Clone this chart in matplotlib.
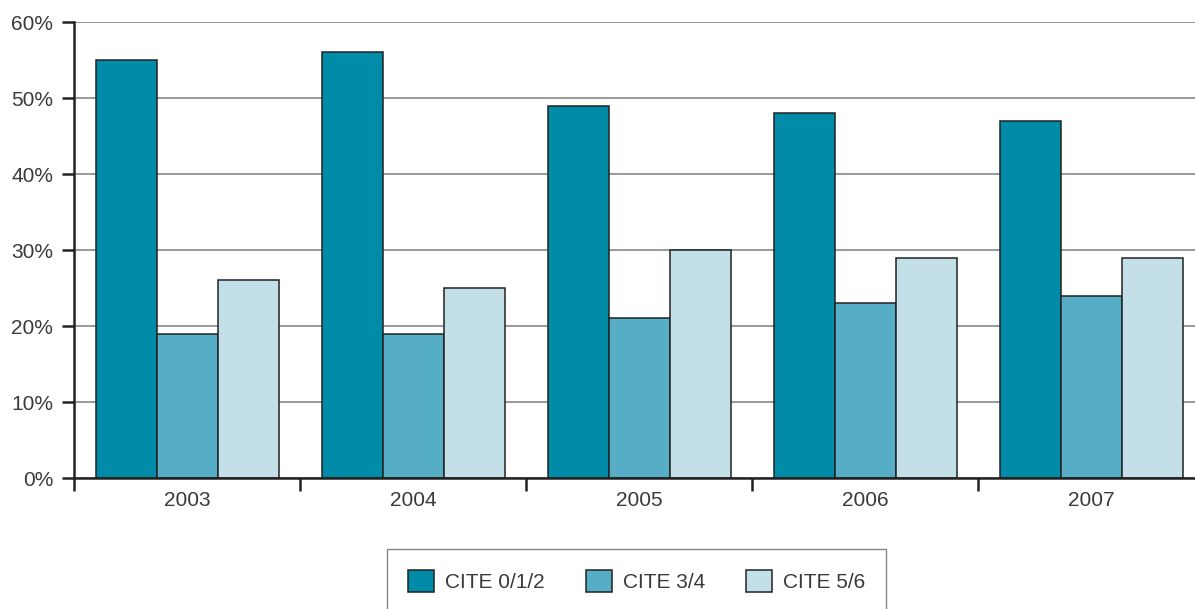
import matplotlib
matplotlib.use("Agg")
import matplotlib.pyplot as plt
import numpy as np

years = ["2003", "2004", "2005", "2006", "2007"]
series_names = ["CITE 0/1/2", "CITE 3/4", "CITE 5/6"]
cite012 = [55, 56, 49, 48, 47]
cite34 = [19, 19, 21, 23, 24]
cite56 = [26, 25, 30, 29, 29]
yticks = [0, 10, 20, 30, 40, 50, 60]

colors = ["#008BA8", "#56AEC6", "#C3DFE7"]

plt.rcParams['font.family'] = ['Liberation Sans', 'DejaVu Sans']
W, H = 1195, 609
fig = plt.figure(figsize=(W / 100, H / 100), dpi=100)
ax = fig.add_axes([74 / W, (H - 478) / H, (1204 - 74) / W, (478 - 22) / H])

x = np.arange(len(years))
bw = 61 / 226
data = [cite012, cite34, cite56]
for k, (vals, c, name) in enumerate(zip(data, colors, series_names)):
    ax.bar(x + (k - 1) * bw, vals, bw, color=c, edgecolor="#222222",
           linewidth=1.1, label=name, zorder=3)

ax.set_xlim(-0.5, len(years) - 0.5)
ax.set_ylim(0, 60)
ax.set_yticks(yticks)
ax.set_yticklabels([f"{v}%" for v in yticks])
ax.yaxis.grid(True, color="#888888", linewidth=1.2, zorder=0)
ax.set_axisbelow(True)

fs = 15
ax.set_xticks(np.arange(-0.5, len(years) + 0.5, 1.0))
ax.set_xticklabels([])
ax.set_xticks(x, minor=True)
ax.set_xticklabels(years, minor=True)
ax.tick_params(axis='x', which='major', direction='out', length=9, width=1.8, color="#222222")
ax.tick_params(axis='x', which='minor', length=0, pad=9, labelsize=fs, labelcolor="#3a3a3a")
ax.tick_params(axis='y', direction='out', length=9, width=1.8, color="#222222",
               pad=6, labelsize=fs, labelcolor="#3a3a3a")

for s in ["top", "right"]:
    ax.spines[s].set_visible(False)
for s in ["left", "bottom"]:
    ax.spines[s].set_linewidth(1.8)
    ax.spines[s].set_color("#222222")
    ax.spines[s].set_zorder(4)

leg = fig.legend(loc="center", bbox_to_anchor=((383 + 890) / 2 / W, (H - 581) / H),
                 ncol=3, fontsize=fs, frameon=True, fancybox=False,
                 handlelength=1.25, handleheight=1.25, handletextpad=0.53,
                 columnspacing=1.97, borderpad=1.0, labelcolor="#3a3a3a")
leg.get_frame().set_edgecolor("#666666")
leg.get_frame().set_linewidth(1.0)

fig.savefig("out.png", dpi=100)
